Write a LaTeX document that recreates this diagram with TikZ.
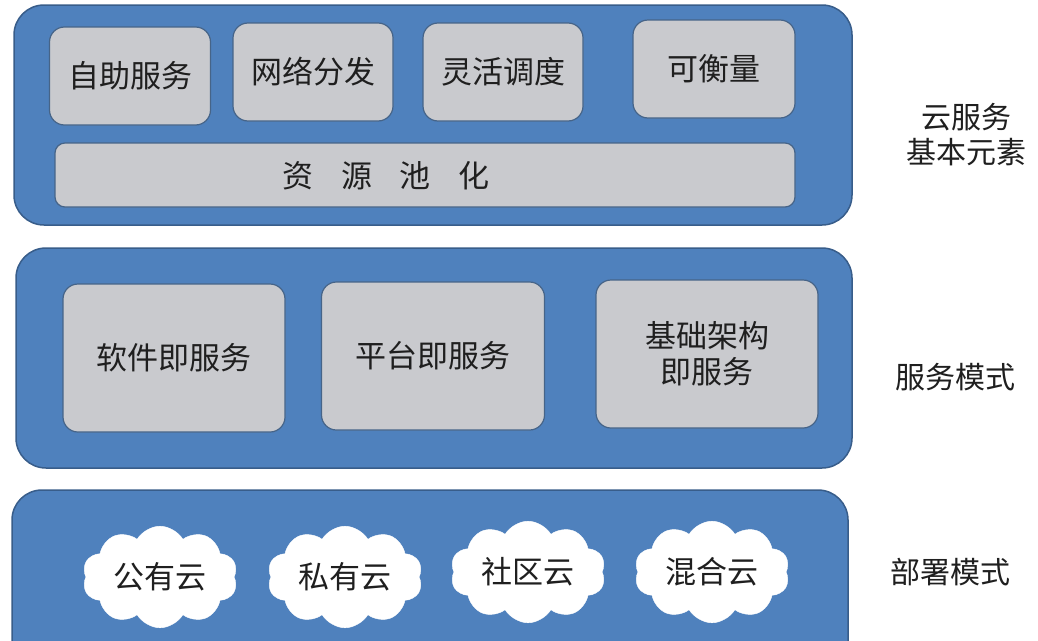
\documentclass[tikz,border=0pt]{standalone}
\usepackage{fontspec}
\setmainfont{Noto Sans CJK SC}
\usetikzlibrary{shapes.symbols}
\definecolor{panelblue}{RGB}{79,129,189}
\definecolor{paneledge}{RGB}{56,93,138}
\definecolor{boxgray}{RGB}{201,202,206}

\begin{document}
\begin{tikzpicture}[
    x=1pt, y=-1pt,
    panel/.style={draw=paneledge, line width=1.5pt, fill=panelblue, rounded corners=30pt},
    elem/.style={draw=paneledge!80!gray, line width=1.2pt, fill=boxgray, rounded corners=15pt, font=\fontsize{31}{36}\selectfont, align=center, inner sep=0pt, text=black!88},
    puff/.style={cloud, cloud puffs=10, cloud puff arc=120, aspect=1.6, fill=white, draw=white, inner sep=0pt, minimum width=155pt, minimum height=95pt, font=\fontsize{31}{36}\selectfont, text=black!88},
    side/.style={font=\fontsize{30}{35}\selectfont, align=center, text=black!88}
]
\clip (0,0) rectangle (1038,640);
\fill[white] (0,0) rectangle (1038,640);

% panels
\node[panel, minimum width=838pt, minimum height=220pt] (top) at (433,115) {};
\node[panel, minimum width=836pt, minimum height=220pt] (mid) at (434,358) {};
\node[panel, minimum width=836pt, minimum height=220pt] (bot) at (430,600) {};

% basic elements
\node[elem, minimum width=161pt, minimum height=98pt] (self) at (130,76) {自助服务};
\node[elem, minimum width=160pt, minimum height=98pt] (net) at (313,72) {网络分发};
\node[elem, minimum width=160pt, minimum height=98pt] (sched) at (503,72) {灵活调度};
\node[elem, minimum width=162pt, minimum height=98pt] (meter) at (714,69) {可衡量};
\node[elem, rounded corners=10pt, minimum width=740pt, minimum height=64pt] (pool) at (425,175) {};
\node[font=\fontsize{31}{36}\selectfont, text=black!88] (pooltxt) at (386,176) {资\hspace{0.9em}源\hspace{0.9em}池\hspace{0.9em}化};

% service models
\node[elem, minimum width=222pt, minimum height=148pt] (saas) at (174,358) {软件即服务};
\node[elem, minimum width=223pt, minimum height=148pt] (paas) at (433,356) {平台即服务};
\node[elem, minimum width=222pt, minimum height=148pt] (iaas) at (707,354) {基础架构\\即服务};

% deployment
\node[puff] (public) at (160,577) {公有云};
\node[puff] (private) at (345,577) {私有云};
\node[puff] (community) at (528,572) {社区云};
\node[puff] (hybrid) at (712,572) {混合云};

% side labels
\node[side] (lbltop) at (966,135) {云服务\\基本元素};
\node[side] (lblmid) at (955,377) {服务模式};
\node[side] (lblbot) at (950,572) {部署模式};
\end{tikzpicture}
\end{document}
